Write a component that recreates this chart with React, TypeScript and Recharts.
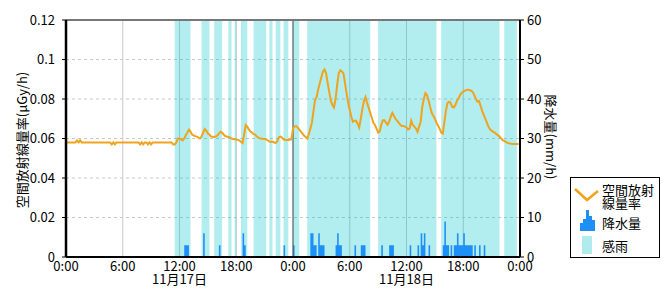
import { ComposedChart, Line, Area, XAxis, YAxis, CartesianGrid, ReferenceLine } from 'recharts';

// air dose rate (μGy/h), 10-minute samples, 11/17 0:00 .. 11/18 23:50
const doseRate = [
  0.058, 0.058, 0.058, 0.058, 0.058, 0.058, 0.058, 0.059, 0.058, 0.059, 0.058, 0.058,
  0.058, 0.058, 0.058, 0.058, 0.058, 0.058, 0.058, 0.058, 0.058, 0.058, 0.058, 0.058,
  0.058, 0.058, 0.058, 0.058, 0.058, 0.057, 0.058, 0.057, 0.058, 0.058, 0.058, 0.058,
  0.058, 0.058, 0.058, 0.058, 0.058, 0.058, 0.058, 0.058, 0.058, 0.058, 0.058, 0.057,
  0.058, 0.057, 0.058, 0.058, 0.057, 0.058, 0.057, 0.058, 0.058, 0.058, 0.058, 0.058,
  0.058, 0.058, 0.058, 0.058, 0.058, 0.058, 0.058, 0.058, 0.057, 0.057, 0.058, 0.06,
  0.06, 0.0595, 0.059, 0.06, 0.0617, 0.063, 0.0645, 0.0635, 0.062, 0.0615, 0.0612, 0.061,
  0.0605, 0.06, 0.061, 0.063, 0.0648, 0.064, 0.0625, 0.062, 0.061, 0.0609, 0.0608, 0.061,
  0.0615, 0.0625, 0.0634, 0.063, 0.062, 0.0612, 0.061, 0.0608, 0.0606, 0.06, 0.0597, 0.0596,
  0.0595, 0.0594, 0.059, 0.0582, 0.0577, 0.062, 0.0668, 0.066, 0.0645, 0.0635, 0.063, 0.0622,
  0.062, 0.061, 0.0605, 0.06, 0.06, 0.0598, 0.0598, 0.0595, 0.059, 0.0585, 0.0583, 0.0585,
  0.058, 0.0578, 0.0585, 0.0606, 0.061, 0.0605, 0.0595, 0.0592, 0.0592, 0.0592, 0.0595, 0.0595,
  0.0651, 0.066, 0.0663, 0.0655, 0.0645, 0.0635, 0.0625, 0.0615, 0.0607, 0.06, 0.062, 0.065,
  0.068, 0.074, 0.0795, 0.081, 0.085, 0.088, 0.091, 0.094, 0.095, 0.093, 0.088, 0.0835,
  0.079, 0.077, 0.0757, 0.08, 0.087, 0.093, 0.0946, 0.094, 0.093, 0.088, 0.0828, 0.078,
  0.0744, 0.071, 0.0685, 0.069, 0.069, 0.0675, 0.0656, 0.07, 0.075, 0.079, 0.081, 0.078,
  0.0755, 0.073, 0.0705, 0.068, 0.0668, 0.065, 0.063, 0.0635, 0.067, 0.0693, 0.0693, 0.068,
  0.067, 0.0685, 0.071, 0.073, 0.0715, 0.07, 0.069, 0.068, 0.067, 0.0663, 0.0663, 0.066,
  0.0656, 0.0646, 0.065, 0.069, 0.0668, 0.066, 0.065, 0.0634, 0.066, 0.0685, 0.076, 0.08,
  0.083, 0.082, 0.0794, 0.076, 0.073, 0.0715, 0.07, 0.068, 0.0665, 0.065, 0.063, 0.0625,
  0.068, 0.074, 0.078, 0.0786, 0.078, 0.076, 0.0757, 0.077, 0.079, 0.0803, 0.082, 0.0831,
  0.0838, 0.0842, 0.0845, 0.0848, 0.0845, 0.0842, 0.0835, 0.082, 0.08, 0.0786, 0.079, 0.0765,
  0.074, 0.072, 0.07, 0.068, 0.066, 0.0646, 0.064, 0.0634, 0.063, 0.0622, 0.0617, 0.061,
  0.06, 0.0592, 0.0588, 0.0583, 0.0578, 0.0576, 0.0574, 0.0572, 0.0572, 0.0572, 0.0572, 0.0572,
];

// precipitation (mm/h): [10-min slot, value]
const precipitation: [number, number][] = [
  [75, 3], [76, 3], [77, 3], [87, 6], [97, 3], [112, 6], [113, 3], [138, 3], [144, 3],
  [155, 6], [156, 6], [157, 3], [158, 3], [160, 6], [161, 3], [162, 3], [163, 3],
  [171, 3], [172, 6], [173, 3], [174, 3], [183, 3], [187, 3], [188, 3], [189, 3],
  [200, 3], [205, 3], [206, 3], [207, 3], [218, 3], [223, 3], [225, 6], [226, 3], [227, 6], [230, 3],
  [239, 3], [240, 9], [241, 3], [242, 3], [244, 3], [246, 3], [247, 3], [248, 6], [249, 3],
  [250, 3], [251, 3], [252, 6], [253, 3], [254, 3], [255, 3], [256, 3], [257, 3],
  [259, 3], [262, 3], [265, 3],
];

// rain sensor on: [first slot, last slot]
const rainSensed: [number, number][] = [
  [69, 78], [86, 90], [94, 98], [103, 104], [107, 107], [111, 114], [119, 126], [129, 130],
  [133, 135], [138, 140], [144, 147], [153, 192], [198, 234], [238, 274], [278, 285],
];

const hourTicks = [0, 36, 72, 108, 144, 180, 216, 252, 288];
const hourLabels = ['0:00', '6:00', '12:00', '18:00', '0:00', '6:00', '12:00', '18:00', '0:00'];
const dateLabels = ['', '', '11月17日', '', '', '', '11月18日', '', ''];
const doseTicks = [0, 0.02, 0.04, 0.06, 0.08, 0.1, 0.12];
const rainTicks = [0, 10, 20, 30, 40, 50, 60];

const ORANGE = '#f0a31c';
const BLUE = '#1e8ff5';
const CYAN = '#00c4cc';
const FONT = '"Noto Sans CJK JP", "Noto Sans", sans-serif';

const data = Array.from({ length: doseRate.length + 1 }, (_, t) => ({
  t,
  dose: doseRate[t],
  rain: 0,
  sense: 0,
}));
precipitation.forEach(([s, v]) => (data[s].rain = v));
rainSensed.forEach(([a, b]) => {
  for (let i = a; i <= b; i++) data[i].sense = 1;
});

function TimeTick({ x, y, payload }: any) {
  const i = hourTicks.indexOf(payload.value);
  return (
    <text x={x} y={y} textAnchor="middle" fontSize={13} fill="#000">
      <tspan x={x} dy={14}>{hourLabels[i]}</tspan>
      {dateLabels[i] ? <tspan x={x} dy={13}>{dateLabels[i]}</tspan> : null}
    </text>
  );
}

// axis titles drawn over the chart
function AxisTitles() {
  return (
    <svg width={670} height={300} style={{ position: 'absolute', left: 0, top: 0, pointerEvents: 'none' }}>
      <text x={21} y={140} transform="rotate(-90 21 140)" textAnchor="middle" dominantBaseline="central" fontSize={13}>
        空間放射線量率(μGy/h)
      </text>
      <text x={551} y={137} transform="rotate(90 551 137)" textAnchor="middle" dominantBaseline="central" fontSize={13}>
        降水量(mm/h)
      </text>
    </svg>
  );
}

function LegendBox() {
  return (
    <div
      style={{
        position: 'absolute',
        left: 570,
        top: 177,
        width: 90,
        height: 81,
        border: '1px solid #000',
        boxSizing: 'border-box',
        background: '#fff',
      }}
    >
      <svg width={88} height={79} style={{ display: 'block' }}>
        <polyline points="4,11 16,22 27,13" fill="none" stroke={ORANGE} strokeWidth={2.5} />
        <text x={31} y={11} fontSize={13} dominantBaseline="central">空間放射</text>
        <text x={31} y={24} fontSize={13} dominantBaseline="central">線量率</text>
        <path d="M9,53 V45 H12 V41 H15 V32 H18 V38 H21 V42 H24 V53 Z" fill={BLUE} />
        <text x={31} y={44} fontSize={13} dominantBaseline="central">降水量</text>
        <rect x={11} y={58} width={10} height={18} fill="#b0ebee" />
        <text x={31} y={67} fontSize={13} dominantBaseline="central">感雨</text>
      </svg>
    </div>
  );
}

export default function App() {
  return (
    <div style={{ position: 'absolute', left: 0, top: 0, width: 670, height: 300, fontFamily: FONT, background: '#fff' }}>
      <ComposedChart width={670} height={300} data={data} margin={{ top: 20, right: 90, bottom: 13, left: 0 }}>
        <CartesianGrid yAxisId="dose" vertical={false} stroke="#c8c8c8" strokeDasharray="3 3" />
        <CartesianGrid yAxisId="dose" horizontal={false} stroke="#c8c8c8" />
        <XAxis
          dataKey="t"
          type="number"
          domain={[0, 288]}
          ticks={hourTicks}
          interval={0}
          tick={<TimeTick />}
          tickLine={false}
          tickSize={0}
          tickMargin={0}
          height={30}
          axisLine={{ stroke: '#000', strokeWidth: 2 }}
        />
        <YAxis
          yAxisId="dose"
          domain={[0, 0.12]}
          ticks={doseTicks}
          interval={0}
          width={66}
          tickSize={4}
          tickMargin={7}
          tick={{ fontSize: 13, fill: '#000' }}
          tickLine={{ stroke: '#000' }}
          axisLine={{ stroke: '#000', strokeWidth: 2.5 }}
          tickFormatter={(v: number) => String(+v.toFixed(2))}
        />
        <YAxis
          yAxisId="rain"
          orientation="right"
          domain={[0, 60]}
          ticks={rainTicks}
          interval={0}
          width={60}
          tickSize={4}
          tickMargin={3}
          tick={{ fontSize: 13, fill: '#000' }}
          tickLine={{ stroke: '#000' }}
          axisLine={{ stroke: '#000', strokeWidth: 2 }}
        />
        <YAxis yAxisId="sense" orientation="right" hide domain={[0, 1]} />
        <Area
          yAxisId="sense"
          dataKey="sense"
          type="stepAfter"
          fill={CYAN}
          fillOpacity={0.3}
          stroke="none"
          activeDot={false}
          isAnimationActive={false}
        />
        <Area
          yAxisId="rain"
          dataKey="rain"
          type="stepAfter"
          fill={BLUE}
          fillOpacity={1}
          stroke="none"
          activeDot={false}
          isAnimationActive={false}
        />
        <ReferenceLine yAxisId="dose" x={144} stroke="#555" />
        <ReferenceLine yAxisId="dose" y={0.12} stroke="#777" strokeWidth={2} />
        <Line
          yAxisId="dose"
          dataKey="dose"
          type="linear"
          stroke={ORANGE}
          strokeWidth={2}
          dot={false}
          activeDot={false}
          isAnimationActive={false}
        />
      </ComposedChart>
      <AxisTitles />
      <LegendBox />
    </div>
  );
}
